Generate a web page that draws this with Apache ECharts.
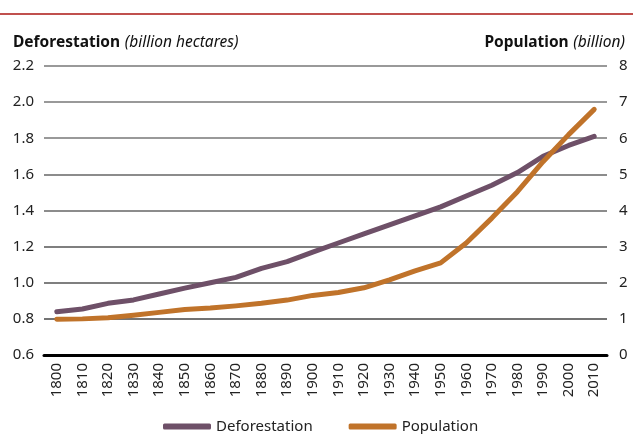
<!DOCTYPE html>
<html><head><meta charset="utf-8">
<script src="https://cdn.jsdelivr.net/npm/echarts@6/dist/echarts.min.js"></script>
<style>html,body{margin:0;padding:0;background:#fff}#c{width:633px;height:434px}</style>
</head><body><div id="c"></div>
<script>
const years = ['1800','1810','1820','1830','1840','1850','1860','1870','1880','1890','1900','1910','1920','1930','1940','1950','1960','1970','1980','1990','2000','2010'];
const deforestation = [0.84,0.855,0.886,0.905,0.938,0.97,1.0,1.03,1.08,1.117,1.17,1.22,1.27,1.32,1.37,1.42,1.48,1.54,1.61,1.70,1.76,1.81];
const population = [0.99,1.0,1.03,1.1,1.18,1.26,1.30,1.36,1.43,1.52,1.65,1.73,1.86,2.08,2.33,2.55,3.1,3.79,4.52,5.35,6.1,6.8];
const leftTicks = {min:0.6,max:2.2,interval:0.2};
const rightTicks = {min:0,max:8,interval:1};

const FONT = '"Noto Sans", sans-serif';
const chart = echarts.init(document.getElementById('c'));
const gridColors = ['#444','#444','#555','#555','#666','#666','#777','#777','#777'];
const rich = {
  b:{fontWeight:'bold',fontSize:15.5,color:'#111',fontFamily:FONT},
  i:{fontStyle:'italic',fontWeight:'normal',fontSize:15.5,color:'#111',fontFamily:FONT}
};
chart.setOption({
  animation:false,
  textStyle:{fontFamily:FONT},
  graphic:[{type:'line',shape:{x1:0,y1:14,x2:633,y2:14},style:{stroke:'#c0504d',lineWidth:2}}],
  title:[
    {left:8,top:29,text:'{b|Deforestation} {i|(billion hectares)}',textStyle:{fontWeight:'normal',rich}},
    {right:3,top:29,text:'{b|Population} {i|(billion)}',textStyle:{fontWeight:'normal',rich}}
  ],
  grid:{left:44,right:26,top:66,bottom:79,containLabel:false},
  legend:{bottom:-5,left:158,itemWidth:48,itemHeight:6,itemGap:36,
    textStyle:{fontSize:15,color:'#222',fontFamily:FONT},
    data:[{name:'Deforestation',icon:'roundRect'},{name:'Population',icon:'roundRect'}]},
  xAxis:{type:'category',data:years,boundaryGap:true,
    axisLine:{show:true,lineStyle:{color:'#000',width:3}},
    axisTick:{show:false},
    axisLabel:{rotate:90,fontSize:15,color:'#222',margin:8,interval:0,fontFamily:FONT}},
  yAxis:[
    {type:'value',...leftTicks,position:'left',
     axisLine:{show:false},axisTick:{show:false},
     axisLabel:{fontSize:15,color:'#222',margin:10,formatter:v=>v.toFixed(1),fontFamily:FONT},
     splitLine:{show:true,lineStyle:{color:gridColors,width:1.5}}},
    {type:'value',...rightTicks,position:'right',
     axisLine:{show:false},axisTick:{show:false},
     axisLabel:{fontSize:15,color:'#222',margin:12,fontFamily:FONT},
     splitLine:{show:false}}
  ],
  series:[
    {name:'Deforestation',type:'line',yAxisIndex:0,data:deforestation,showSymbol:false,symbol:'none',
     lineStyle:{color:'#6e5068',width:5,cap:'round',join:'round'},itemStyle:{color:'#6e5068'}},
    {name:'Population',type:'line',yAxisIndex:1,data:population,showSymbol:false,symbol:'none',
     lineStyle:{color:'#c0732a',width:5,cap:'round',join:'round'},itemStyle:{color:'#c0732a'}}
  ]
});
</script></body></html>
